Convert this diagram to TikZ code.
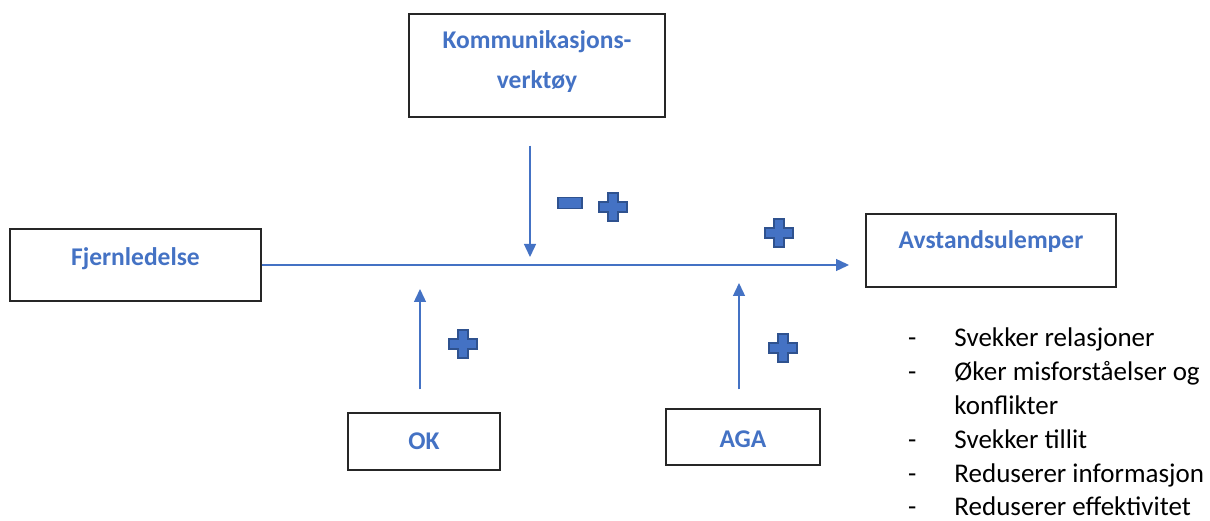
\documentclass[tikz,border=0pt]{standalone}
\usepackage{fontspec}
\setmainfont{Carlito}
\usetikzlibrary{positioning, arrows.meta, calc}
\definecolor{accblue}{HTML}{4472C4}
\definecolor{accdark}{HTML}{2F528F}

\begin{document}
\begin{tikzpicture}[
    x=1pt, y=-1pt,
    box/.style={draw=black!85, line width=1.3pt, inner sep=0pt, align=center, font=\fontsize{25.5}{40}\selectfont\bfseries, text=accblue},
    arr/.style={-{Triangle[length=13pt, width=12pt]}, accblue, line width=1.4pt},
    sign/.style={fill=accblue, draw=accdark, line width=1.5pt},
    plussign/.pic={\path[sign] (-5,-14) -- (5,-14) -- (5,-5) -- (14,-5) -- (14,5) -- (5,5) -- (5,14) -- (-5,14) -- (-5,5) -- (-14,5) -- (-14,-5) -- (-5,-5) -- cycle;},
    minussign/.pic={\path[sign] (-12,-5.5) rectangle (12,5.5);},
    lst/.style={font=\fontsize{27}{33.8}\selectfont, inner sep=0pt, anchor=north west},
  ]
    \useasboundingbox (0,0) rectangle (1210,521);

    % Boxes
    \node[box, minimum width=256pt, minimum height=103pt, text depth=12pt] (komm) at (537,65.5) {Kommunikasjons-\\verktøy};
    \node[box, minimum width=251pt, minimum height=72pt, text depth=17pt] (fjern) at (135.5,265) {Fjernledelse};
    \node[box, minimum width=250pt, minimum height=73pt, text depth=21pt] (avst) at (991,250.5) {Avstandsulemper};
    \node[box, minimum width=152pt, minimum height=57pt] (ok) at (424,441.5) {OK};
    \node[box, minimum width=154pt, minimum height=56pt, text height=22pt] (aga) at (743,437) {AGA};

    % Arrow ends
    \coordinate (avin) at (849,265);
    \coordinate (kin) at (530,257);
    \coordinate (okin) at (420,289);
    \coordinate (again) at (739,283);

    % Arrows
    \draw[arr] (fjern.east) -- (avin);
    \draw[arr, shorten <=28pt] (komm.south -| kin) -- (kin);
    \draw[arr, shorten <=23pt] (ok.north -| okin) -- (okin);
    \draw[arr, shorten <=19pt] (aga.north -| again) -- (again);

    % Signs
    \pic at (570,203) {minussign};
    \pic at (613,207) {plussign};
    \pic at (779,233) {plussign};
    \pic at (463,344) {plussign};
    \pic at (783,348) {plussign};

    % Consequences
    \node[lst] (list) at (908,323) {\begin{tabular}{@{}l@{\hspace{38pt}}l@{}}
      - & Svekker relasjoner\\
      - & Øker misforståelser og\\
        & konflikter\\
      - & Svekker tillit\\
      - & Reduserer informasjon\\
      - & Reduserer effektivitet
    \end{tabular}};
  \end{tikzpicture}
\end{document}
